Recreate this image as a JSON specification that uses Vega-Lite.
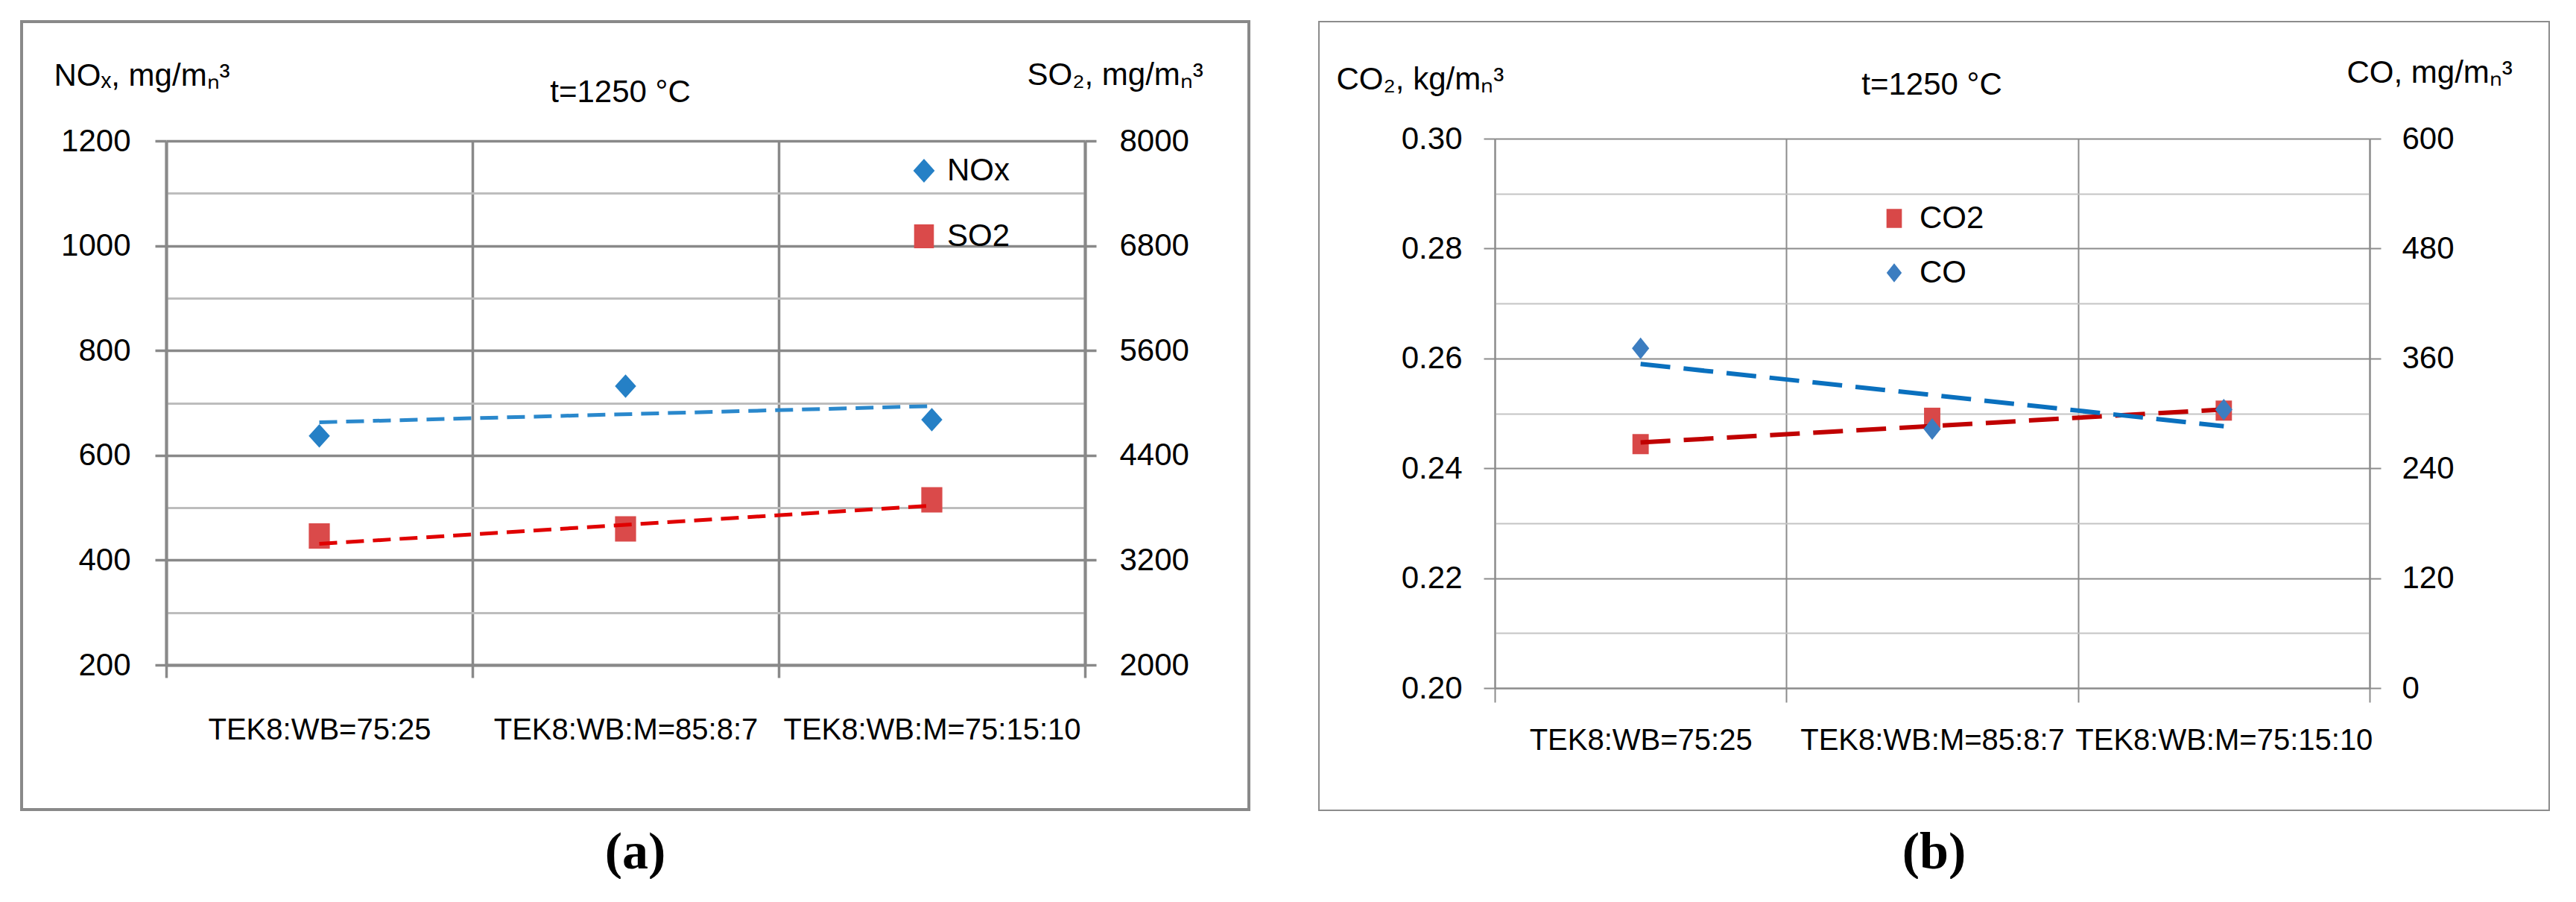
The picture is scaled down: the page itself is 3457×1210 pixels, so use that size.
{
  "$schema": "https://vega.github.io/schema/vega-lite/v6.json",
  "background": "white",
  "padding": {"left": 27, "top": 27, "right": 0, "bottom": 0},
  "spacing": 91,
  "config": {
    "font": "Liberation Sans",
    "view": {"stroke": null},
    "axis": {"labelColor": "#000000", "titleColor": "#000000", "titleFontWeight": "normal", "labelFontSize": 42, "titleFontSize": 42, "labelFont": "Liberation Sans", "titleFont": "Liberation Sans"},
    "legend": {"labelFont": "Liberation Sans"}
  },
  "resolve": {"scale": {"color": "independent", "shape": "independent"}},
  "datasets": {
    "a_pts": [
      {"cat": "TEK8:WB=75:25", "series": "NOx", "value": 637},
      {"cat": "TEK8:WB:M=85:8:7", "series": "NOx", "value": 732},
      {"cat": "TEK8:WB:M=75:15:10", "series": "NOx", "value": 668},
      {"cat": "TEK8:WB=75:25", "series": "SO2", "value": 3476},
      {"cat": "TEK8:WB:M=85:8:7", "series": "SO2", "value": 3557},
      {"cat": "TEK8:WB:M=75:15:10", "series": "SO2", "value": 3890}
    ],
    "a_trend": [
      {"cat": "TEK8:WB=75:25", "series": "NOx", "value": 663},
      {"cat": "TEK8:WB:M=75:15:10", "series": "NOx", "value": 694},
      {"cat": "TEK8:WB=75:25", "series": "SO2", "value": 3386},
      {"cat": "TEK8:WB:M=75:15:10", "series": "SO2", "value": 3824}
    ],
    "b_pts": [
      {"cat": "TEK8:WB=75:25", "series": "CO2", "value": 0.2444},
      {"cat": "TEK8:WB:M=85:8:7", "series": "CO2", "value": 0.2492},
      {"cat": "TEK8:WB:M=75:15:10", "series": "CO2", "value": 0.2505},
      {"cat": "TEK8:WB=75:25", "series": "CO", "value": 371},
      {"cat": "TEK8:WB:M=85:8:7", "series": "CO", "value": 283},
      {"cat": "TEK8:WB:M=75:15:10", "series": "CO", "value": 304}
    ],
    "b_trend": [
      {"cat": "TEK8:WB=75:25", "series": "CO2", "value": 0.2447},
      {"cat": "TEK8:WB:M=75:15:10", "series": "CO2", "value": 0.2507},
      {"cat": "TEK8:WB=75:25", "series": "CO", "value": 354},
      {"cat": "TEK8:WB:M=75:15:10", "series": "CO", "value": 286}
    ]
  },
  "hconcat": [
    {
      "title": {"text": "(a)", "orient": "bottom", "anchor": "middle", "font": "Liberation Serif", "fontSize": 70, "fontWeight": "bold", "color": "#000000", "offset": 22},
      "vconcat": [
        {
          "width": 1647,
          "height": 1057,
          "view": {"stroke": "#898989", "strokeWidth": 4, "fill": "white"},
          "title": {"text": "t=1250 °C", "orient": "top", "anchor": "middle", "offset": 0, "baseline": "middle", "dy": 137, "dx": -20, "fontSize": 42, "fontWeight": "normal", "color": "#000000", "font": "Liberation Sans"},
          "layer": [
            {
              "encoding": {
                "x": {
                  "field": "cat", "type": "nominal", "title": null,
                  "scale": {"type": "band", "domain": ["TEK8:WB=75:25", "TEK8:WB:M=85:8:7", "TEK8:WB:M=75:15:10"], "range": [194, 1427], "paddingInner": 0, "paddingOuter": 0},
                  "axis": {"orient": "top", "tickBand": "extent", "grid": true, "gridColor": "#898989", "gridWidth": 3.5, "labels": false, "ticks": false, "domain": false}
                }
              },
              "layer": [
                {
                  "data": {"name": "a_pts"},
                  "transform": [{"filter": "datum.series === 'NOx'"}],
                  "mark": {"type": "point", "filled": true, "opacity": 1, "strokeWidth": 0, "size": 1000},
                  "encoding": {
                    "y": {
                      "field": "value", "type": "quantitative",
                      "scale": {"domain": [200, 1200], "range": [863, 160], "nice": false, "zero": false},
                      "axis": {
                        "orient": "left", "offset": -194,
                        "title": "NOₓ, mg/mₙ³", "titleAngle": 0, "titleAlign": "left", "titleBaseline": "middle", "titleX": -151, "titleY": 72,
                        "values": [200, 300, 400, 500, 600, 700, 800, 900, 1000, 1100, 1200],
                        "format": "d",
                        "labelExpr": "datum.value % 200 === 0 ? datum.label : ''",
                        "grid": true,
                        "gridColor": {"condition": {"test": "datum.value % 200 === 0", "value": "#898989"}, "value": "#BDBDBD"},
                        "gridWidth": {"condition": {"test": "datum.value % 200 === 0", "value": 3.5}, "value": 3},
                        "tickSize": 15, "tickColor": "#898989", "tickWidth": 3.5,
                        "tickOpacity": {"condition": {"test": "datum.value % 200 === 0", "value": 1}, "value": 0},
                        "domainColor": "#898989", "domainWidth": 4,
                        "labelPadding": 33, "labelFontSize": 42
                      }
                    },
                    "color": {
                      "field": "series", "type": "nominal",
                      "scale": {"domain": ["NOx", "SO2"], "range": ["#2580C6", "#DA4A4A"]},
                      "legend": {"orient": "none", "legendX": 1190, "legendY": 179, "title": null, "labelFontSize": 42, "labelColor": "#000000", "symbolSize": 1024, "rowPadding": 46, "labelOffset": 10, "symbolStrokeWidth": 0, "padding": 0, "symbolOpacity": 1}
                    },
                    "shape": {
                      "field": "series", "type": "nominal",
                      "scale": {"domain": ["NOx", "SO2"], "range": ["M0,-1L0.9,0L0,1L-0.9,0Z", "M-0.83,-1L0.83,-1L0.83,1L-0.83,1Z"]},
                      "legend": {"orient": "none", "legendX": 1190, "legendY": 179, "title": null, "labelFontSize": 42, "labelColor": "#000000", "symbolSize": 1024, "rowPadding": 46, "labelOffset": 10, "symbolStrokeWidth": 0, "padding": 0, "symbolOpacity": 1}
                    }
                  }
                },
                {
                  "data": {"name": "a_trend"},
                  "transform": [{"filter": "datum.series === 'NOx'"}],
                  "mark": {"type": "line", "color": "#2A88CC", "strokeWidth": 5, "strokeDash": [24, 12]},
                  "encoding": {"y": {"field": "value", "type": "quantitative"}}
                }
              ]
            },
            {
              "encoding": {
                "x": {
                  "field": "cat", "type": "nominal", "title": null,
                  "scale": {"type": "band", "domain": ["TEK8:WB=75:25", "TEK8:WB:M=85:8:7", "TEK8:WB:M=75:15:10"], "range": [194, 1427], "paddingInner": 0, "paddingOuter": 0},
                  "axis": {
                    "orient": "bottom", "offset": -194, "tickBand": "extent", "grid": false,
                    "ticks": true, "tickSize": 17, "tickColor": "#898989", "tickWidth": 3.5,
                    "domain": true, "domainColor": "#898989", "domainWidth": 4,
                    "labelFontSize": 40, "labelPadding": 50, "labelAngle": 0, "labelOverlap": false, "labelLimit": 1000
                  }
                }
              },
              "layer": [
                {
                  "data": {"name": "a_pts"},
                  "transform": [{"filter": "datum.series === 'SO2'"}],
                  "mark": {"type": "point", "filled": true, "opacity": 1, "strokeWidth": 0, "size": 1156},
                  "encoding": {
                    "y": {
                      "field": "value", "type": "quantitative",
                      "scale": {"domain": [2000, 8000], "range": [863, 160], "nice": false, "zero": false},
                      "axis": {
                        "orient": "right", "offset": -220,
                        "title": "SO₂, mg/mₙ³", "titleAngle": 0, "titleAlign": "left", "titleBaseline": "middle", "titleX": -78, "titleY": 71,
                        "values": [2000, 3200, 4400, 5600, 6800, 8000],
                        "format": "d",
                        "grid": false,
                        "tickSize": 15, "tickColor": "#898989", "tickWidth": 3.5,
                        "domainColor": "#898989", "domainWidth": 4,
                        "labelPadding": 31, "labelFontSize": 42
                      }
                    },
                    "color": {
                      "field": "series", "type": "nominal",
                      "legend": {"orient": "none", "legendX": 1190, "legendY": 179, "title": null, "labelFontSize": 42, "labelColor": "#000000", "symbolSize": 1024, "rowPadding": 46, "labelOffset": 10, "symbolStrokeWidth": 0, "padding": 0, "symbolOpacity": 1}
                    },
                    "shape": {
                      "field": "series", "type": "nominal",
                      "legend": {"orient": "none", "legendX": 1190, "legendY": 179, "title": null, "labelFontSize": 42, "labelColor": "#000000", "symbolSize": 1024, "rowPadding": 46, "labelOffset": 10, "symbolStrokeWidth": 0, "padding": 0, "symbolOpacity": 1}
                    }
                  }
                },
                {
                  "data": {"name": "a_trend"},
                  "transform": [{"filter": "datum.series === 'SO2'"}],
                  "mark": {"type": "line", "color": "#E00000", "strokeWidth": 5, "strokeDash": [24, 12]},
                  "encoding": {"y": {"field": "value", "type": "quantitative"}}
                }
              ]
            }
          ],
          "resolve": {"scale": {"y": "independent"}, "axis": {"x": "independent"}}
        }
      ]
    },
    {
      "title": {"text": "(b)", "orient": "bottom", "anchor": "middle", "font": "Liberation Serif", "fontSize": 70, "fontWeight": "bold", "color": "#000000", "offset": 22},
      "vconcat": [
        {
          "width": 1651,
          "height": 1058,
          "view": {"stroke": "#8C8C8C", "strokeWidth": 2, "fill": "white"},
          "title": {"text": "t=1250 °C", "orient": "top", "anchor": "middle", "offset": 0, "baseline": "middle", "dy": 127, "dx": -3, "fontSize": 42, "fontWeight": "normal", "color": "#000000", "font": "Liberation Sans"},
          "layer": [
            {
              "encoding": {
                "x": {
                  "field": "cat", "type": "nominal", "title": null,
                  "scale": {"type": "band", "domain": ["TEK8:WB=75:25", "TEK8:WB:M=85:8:7", "TEK8:WB:M=75:15:10"], "range": [236, 1410], "paddingInner": 0, "paddingOuter": 0},
                  "axis": {"orient": "top", "tickBand": "extent", "grid": true, "gridColor": "#8C8C8C", "gridWidth": 2, "labels": false, "ticks": false, "domain": false}
                }
              },
              "layer": [
                {
                  "data": {"name": "b_pts"},
                  "transform": [{"filter": "datum.series === 'CO2'"}],
                  "mark": {"type": "point", "filled": true, "opacity": 1, "strokeWidth": 0, "size": 729},
                  "encoding": {
                    "y": {
                      "field": "value", "type": "quantitative",
                      "scale": {"domain": [0.2, 0.3], "range": [894, 157], "nice": false, "zero": false},
                      "axis": {
                        "orient": "left", "offset": -236,
                        "title": "CO₂, kg/mₙ³", "titleAngle": 0, "titleAlign": "left", "titleBaseline": "middle", "titleX": -213, "titleY": 77,
                        "values": [0.2, 0.21, 0.22, 0.23, 0.24, 0.25, 0.26, 0.27, 0.28, 0.29, 0.3],
                        "format": ".2f",
                        "labelExpr": "round(datum.value * 100) % 2 === 0 ? datum.label : ''",
                        "grid": true,
                        "gridColor": {"condition": {"test": "round(datum.value * 100) % 2 === 0", "value": "#8C8C8C"}, "value": "#C4C4C4"},
                        "gridWidth": 2,
                        "tickSize": 15, "tickColor": "#8C8C8C", "tickWidth": 2,
                        "tickOpacity": {"condition": {"test": "round(datum.value * 100) % 2 === 0", "value": 1}, "value": 0},
                        "domainColor": "#8C8C8C", "domainWidth": 2,
                        "labelPadding": 29, "labelFontSize": 42
                      }
                    },
                    "color": {
                      "field": "series", "type": "nominal",
                      "scale": {"domain": ["CO2", "CO"], "range": ["#D84848", "#3C7DC0"]},
                      "legend": {"orient": "none", "legendX": 751, "legendY": 243, "title": null, "labelFontSize": 42, "labelColor": "#000000", "symbolSize": 650, "rowPadding": 31, "labelOffset": 13, "symbolStrokeWidth": 0, "padding": 0, "symbolOpacity": 1}
                    },
                    "shape": {
                      "field": "series", "type": "nominal",
                      "scale": {"domain": ["CO2", "CO"], "range": ["M-0.81,-1L0.81,-1L0.81,1L-0.81,1Z", "M0,-1L0.8,0L0,1L-0.8,0Z"]},
                      "legend": {"orient": "none", "legendX": 751, "legendY": 243, "title": null, "labelFontSize": 42, "labelColor": "#000000", "symbolSize": 650, "rowPadding": 31, "labelOffset": 13, "symbolStrokeWidth": 0, "padding": 0, "symbolOpacity": 1}
                    }
                  }
                },
                {
                  "data": {"name": "b_trend"},
                  "transform": [{"filter": "datum.series === 'CO2'"}],
                  "mark": {"type": "line", "color": "#C00000", "strokeWidth": 6, "strokeDash": [40, 18]},
                  "encoding": {"y": {"field": "value", "type": "quantitative"}}
                }
              ]
            },
            {
              "encoding": {
                "x": {
                  "field": "cat", "type": "nominal", "title": null,
                  "scale": {"type": "band", "domain": ["TEK8:WB=75:25", "TEK8:WB:M=85:8:7", "TEK8:WB:M=75:15:10"], "range": [236, 1410], "paddingInner": 0, "paddingOuter": 0},
                  "axis": {
                    "orient": "bottom", "offset": -164, "tickBand": "extent", "grid": false,
                    "ticks": true, "tickSize": 19, "tickColor": "#8C8C8C", "tickWidth": 2,
                    "domain": true, "domainColor": "#8C8C8C", "domainWidth": 2,
                    "labelFontSize": 40, "labelPadding": 31, "labelAngle": 0, "labelOverlap": false, "labelLimit": 1000
                  }
                }
              },
              "layer": [
                {
                  "data": {"name": "b_pts"},
                  "transform": [{"filter": "datum.series === 'CO'"}],
                  "mark": {"type": "point", "filled": true, "opacity": 1, "strokeWidth": 0, "size": 841},
                  "encoding": {
                    "y": {
                      "field": "value", "type": "quantitative",
                      "scale": {"domain": [0, 600], "range": [894, 157], "nice": false, "zero": false},
                      "axis": {
                        "orient": "right", "offset": -241,
                        "title": "CO, mg/mₙ³", "titleAngle": 0, "titleAlign": "left", "titleBaseline": "middle", "titleX": -31, "titleY": 68,
                        "values": [0, 120, 240, 360, 480, 600],
                        "format": "d",
                        "grid": false,
                        "tickSize": 15, "tickColor": "#8C8C8C", "tickWidth": 2,
                        "domainColor": "#8C8C8C", "domainWidth": 2,
                        "labelPadding": 28, "labelFontSize": 42
                      }
                    },
                    "color": {
                      "field": "series", "type": "nominal",
                      "legend": {"orient": "none", "legendX": 751, "legendY": 243, "title": null, "labelFontSize": 42, "labelColor": "#000000", "symbolSize": 650, "rowPadding": 31, "labelOffset": 13, "symbolStrokeWidth": 0, "padding": 0, "symbolOpacity": 1}
                    },
                    "shape": {
                      "field": "series", "type": "nominal",
                      "legend": {"orient": "none", "legendX": 751, "legendY": 243, "title": null, "labelFontSize": 42, "labelColor": "#000000", "symbolSize": 650, "rowPadding": 31, "labelOffset": 13, "symbolStrokeWidth": 0, "padding": 0, "symbolOpacity": 1}
                    }
                  }
                },
                {
                  "data": {"name": "b_trend"},
                  "transform": [{"filter": "datum.series === 'CO'"}],
                  "mark": {"type": "line", "color": "#0A70BE", "strokeWidth": 6, "strokeDash": [40, 18]},
                  "encoding": {"y": {"field": "value", "type": "quantitative"}}
                }
              ]
            }
          ],
          "resolve": {"scale": {"y": "independent"}, "axis": {"x": "independent"}}
        }
      ]
    }
  ]
}
